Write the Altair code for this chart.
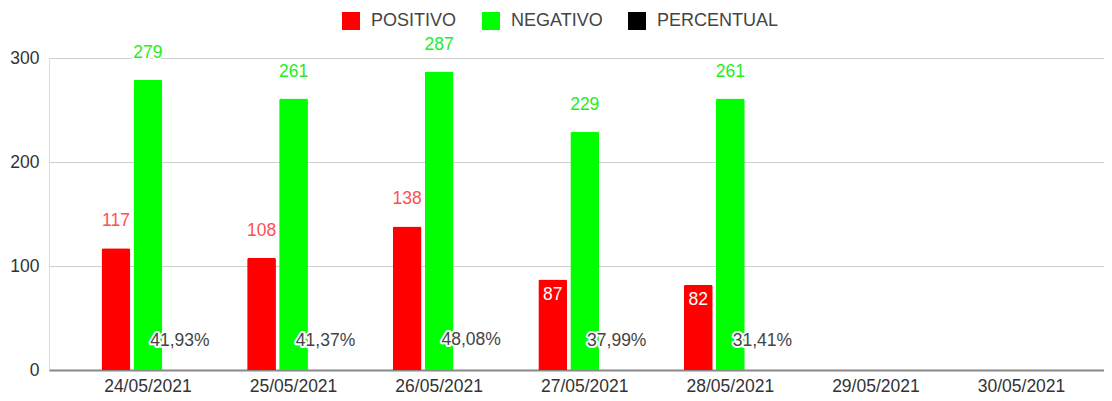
import altair as alt
import pandas as pd

dates = ["24/05/2021", "25/05/2021", "26/05/2021", "27/05/2021",
         "28/05/2021", "29/05/2021", "30/05/2021"]
positivo = [117, 108, 138, 87, 82, None, None]
negativo = [279, 261, 287, 229, 261, None, None]
percentual = [41.93, 41.37, 48.08, 37.99, 31.41, None, None]
positivo_label_inside = [False, False, False, True, True, False, False]

series = ["POSITIVO", "NEGATIVO", "PERCENTUAL"]
colors = ["#ff0000", "#00ff00", "#000000"]

rows = []
for i, d in enumerate(dates):
    if positivo[i] is not None:
        rows.append({"data": d, "serie": "POSITIVO", "valor": positivo[i],
                     "rotulo": str(positivo[i]),
                     "dentro": positivo_label_inside[i]})
    if negativo[i] is not None:
        rows.append({"data": d, "serie": "NEGATIVO", "valor": negativo[i],
                     "rotulo": str(negativo[i]), "dentro": False})
    if percentual[i] is not None:
        rows.append({"data": d, "serie": "PERCENTUAL", "valor": percentual[i] / 100,
                     "rotulo": f"{percentual[i]:.2f}".replace(".", ",") + "%",
                     "dentro": False})
df = pd.DataFrame(rows)

FONT = "Liberation Sans"
FS = 17.5

x = alt.X("data:N", title=None, sort=dates,
          scale=alt.Scale(domain=dates, paddingInner=0, paddingOuter=0.123, align=0.73),
          axis=alt.Axis(labelAngle=0, ticks=False, labelPadding=7, labelFontSize=FS,
                        labelColor="#333", labelFont=FONT, domainColor="#888",
                        domainWidth=2, grid=False))
xo = alt.XOffset("serie:N", sort=series,
                 scale=alt.Scale(domain=series, paddingInner=0.1, paddingOuter=0.825))
y = alt.Y("valor:Q", title=None,
          scale=alt.Scale(domain=[0, 300], nice=False),
          axis=alt.Axis(values=[0, 100, 200, 300], ticks=False, domain=False,
                        labelPadding=10, labelFontSize=FS, labelColor="#333",
                        labelFont=FONT, gridColor="#d0d0d0", gridWidth=1))

base = alt.Chart(df)

# the PERCENTUAL series is under one pixel tall in the source, so no bar is drawn for it
bars = base.transform_filter("datum.serie != 'PERCENTUAL'").mark_bar(
    cornerRadiusTopLeft=2, cornerRadiusTopRight=2).encode(
    x=x, xOffset=xo, y=y,
    color=alt.Color("serie:N", sort=series,
                    scale=alt.Scale(domain=series, range=colors),
                    legend=alt.Legend(title=None, orient="none", direction="horizontal",
                                      legendX=293, legendY=-46,
                                      symbolType="square", symbolSize=324,
                                      symbolStrokeWidth=0, symbolOpacity=1,
                                      labelFontSize=18, labelFont=FONT,
                                      labelColor="#444", labelOffset=11,
                                      columnPadding=25)),
)

def labels(filt, color, dy, halo):
    layers = []
    src = base.transform_filter(filt)
    enc = dict(x=x, xOffset=xo, y=y, text="rotulo:N")
    if halo:
        layers.append(src.mark_text(baseline="middle", dy=dy, fontSize=FS, font=FONT,
                                    color="white", stroke="white", strokeWidth=4,
                                    strokeJoin="round").encode(**enc))
    layers.append(src.mark_text(baseline="middle", dy=dy, fontSize=FS, font=FONT,
                                color=color).encode(**enc))
    return layers

lay = [bars]
lay += labels("datum.serie == 'POSITIVO' && !datum.dentro", "#ff4f4f", -27, True)
lay += labels("datum.serie == 'POSITIVO' && datum.dentro", "#ffffff", 15, False)
lay += labels("datum.serie == 'NEGATIVO'", "#22ee22", -27, True)
lay += labels("datum.serie == 'PERCENTUAL'", "#444444", -29, True)

chart = alt.layer(*lay).properties(
    width=1055, height=312,
    autosize=alt.AutoSizeParams(type="none"),
    padding={"left": 41, "top": 50, "right": 0, "bottom": 25},
).configure_view(stroke=None).configure(font=FONT)

chart.save("out.html", embed_options={"renderer": "svg", "actions": False})
